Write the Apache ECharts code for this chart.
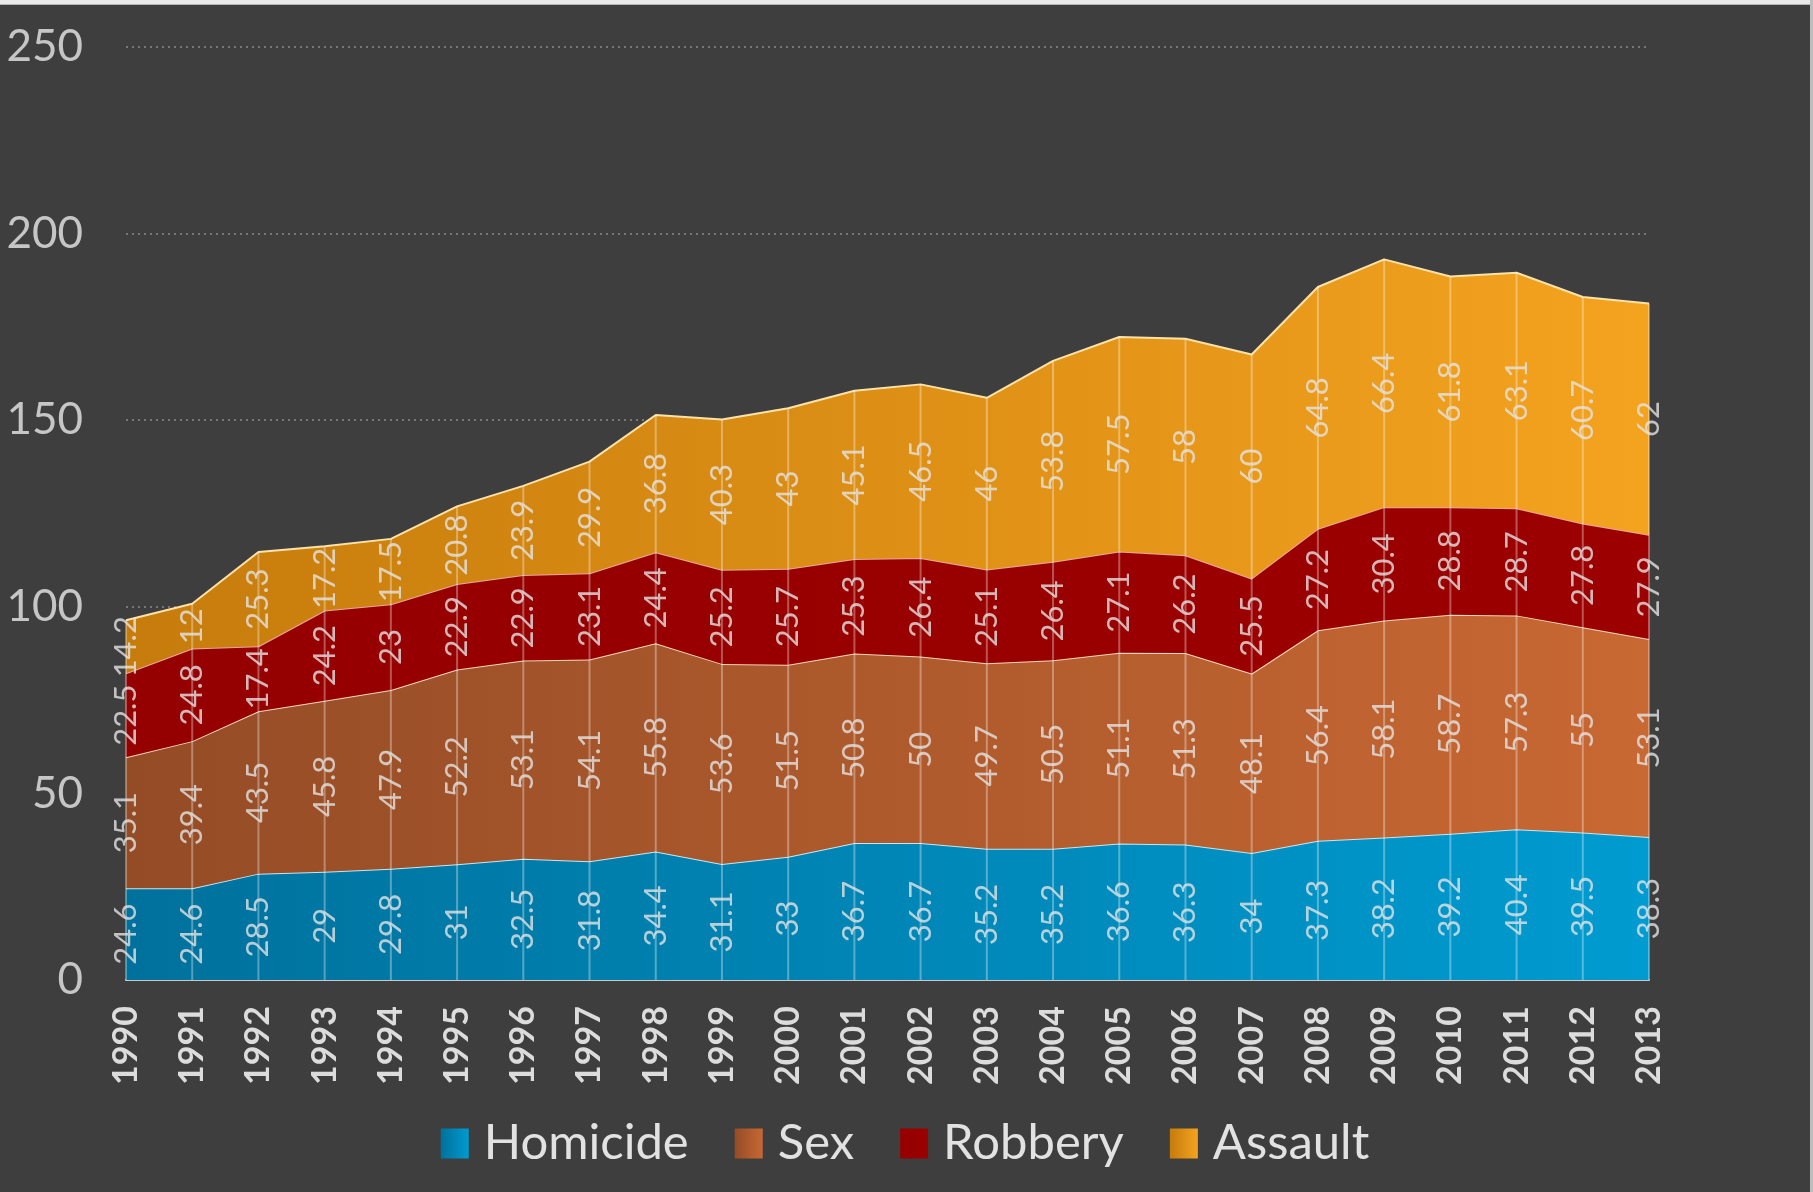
<!DOCTYPE html>
<html>
<head>
<meta charset="utf-8">
<script src="https://cdn.jsdelivr.net/npm/echarts@6/dist/echarts.min.js"></script>
<style>
  html, body { margin: 0; padding: 0; background: #3e3e3e; }
  #chart { position: absolute; left: 0; top: 0; width: 1810px; height: 1192px; }
  #topbar { position: absolute; left: 0; top: 0; width: 1813px; height: 5px; background: #e9e9e9; border-bottom: 1px solid #b5b5b5; box-sizing: border-box; }
  #rightbar { position: absolute; left: 1810px; top: 0; width: 3px; height: 1192px; background: #bdbdbd; }
</style>
</head>
<body>
<div id="chart"></div>
<div id="topbar"></div>
<div id="rightbar"></div>
<script>
// Years on the category axis
const years = ['1990','1991','1992','1993','1994','1995','1996','1997','1998','1999','2000','2001',
               '2002','2003','2004','2005','2006','2007','2008','2009','2010','2011','2012','2013'];

// Values per offence type, stacked bottom to top
const homicide = [24.6, 24.6, 28.5, 29, 29.8, 31, 32.5, 31.8, 34.4, 31.1, 33, 36.7,
                  36.7, 35.2, 35.2, 36.6, 36.3, 34, 37.3, 38.2, 39.2, 40.4, 39.5, 38.3];
const sex      = [35.1, 39.4, 43.5, 45.8, 47.9, 52.2, 53.1, 54.1, 55.8, 53.6, 51.5, 50.8,
                  50, 49.7, 50.5, 51.1, 51.3, 48.1, 56.4, 58.1, 58.7, 57.3, 55, 53.1];
const robbery  = [22.5, 24.8, 17.4, 24.2, 23, 22.9, 22.9, 23.1, 24.4, 25.2, 25.7, 25.3,
                  26.4, 25.1, 26.4, 27.1, 26.2, 25.5, 27.2, 30.4, 28.8, 28.7, 27.8, 27.9];
const assault  = [14.2, 12, 25.3, 17.2, 17.5, 20.8, 23.9, 29.9, 36.8, 40.3, 43, 45.1,
                  46.5, 46, 53.8, 57.5, 58, 60, 64.8, 66.4, 61.8, 63.1, 60.7, 62];

const yTicks = { min: 0, max: 250, interval: 50 };

const FONT = 'Lato, "Open Sans", "DejaVu Sans", sans-serif';
const grad = (a, b) => new echarts.graphic.LinearGradient(0, 0, 1, 0, [
  { offset: 0, color: a }, { offset: 1, color: b }
]);

const layers = [
  { name: 'Homicide', data: homicide, fill: ['#00719c', '#009bd0'], line: '#bfe8f6' },
  { name: 'Sex',      data: sex,      fill: ['#944c26', '#c86833'], line: '#f3d6bd' },
  { name: 'Robbery',  data: robbery,  fill: ['#950000', '#9c0000'], line: '#e9a5a5' },
  { name: 'Assault',  data: assault,  fill: ['#c67c0c', '#f4a31f'], line: '#fde2a6' }
];

const chart = echarts.init(document.getElementById('chart'), null, { renderer: 'canvas' });

// Stacked areas
const areaSeries = layers.map((l, k) => ({
  name: l.name,
  type: 'line',
  stack: 'total',
  data: l.data,
  symbol: 'none',
  smooth: false,
  lineStyle: { color: l.line, width: 2 },
  itemStyle: { color: grad(l.fill[0], l.fill[1]) },
  areaStyle: { color: grad(l.fill[0], l.fill[1]), opacity: 1 },
  emphasis: { disabled: true },
  z: 2 + k
}));

// Running bases for centring the value labels inside each band
const bases = years.map(() => 0);
const labelSeries = layers.map(l => {
  const pts = l.data.map((v, i) => {
    const mid = bases[i] + v / 2;
    bases[i] += v;
    return [i, mid, v];
  });
  return {
    type: 'scatter',
    data: pts,
    symbol: 'circle',
    symbolSize: 1,
    itemStyle: { color: 'rgba(0,0,0,0)' },
    silent: true,
    z: 20,
    label: {
      show: true,
      position: 'inside',
      rotate: 90,
      color: '#e4e4e4',
      fontSize: 31,
      fontFamily: FONT,
      formatter: p => String(p.value[2])
    }
  };
});

// Totals for the vertical drop lines at each year
const totals = years.map((_, i) => homicide[i] + sex[i] + robbery[i] + assault[i]);
const dropSeries = {
  type: 'custom',
  silent: true,
  z: 10,
  data: totals.map((t, i) => [i, t]),
  renderItem: (params, api) => {
    const top = api.coord([api.value(0), api.value(1)]);
    const bot = api.coord([api.value(0), 0]);
    return {
      type: 'line',
      shape: { x1: top[0], y1: top[1], x2: bot[0], y2: bot[1] },
      style: { stroke: 'rgba(255,255,255,0.33)', lineWidth: 2 }
    };
  }
};

chart.setOption({
  backgroundColor: '#3e3e3e',
  animation: false,
  grid: { left: 126, right: 161, top: 47, bottom: 212 },
  legend: {
    left: 'center',
    top: 1114,
    itemWidth: 28,
    itemHeight: 30,
    itemGap: 46,
    icon: 'rect',
    textStyle: { color: '#e2e2e2', fontSize: 49, fontFamily: FONT, padding: [0, 0, 0, 10] },
    data: layers.map(l => ({ name: l.name, itemStyle: { color: grad(l.fill[0], l.fill[1]) } }))
  },
  xAxis: {
    type: 'category',
    data: years,
    boundaryGap: false,
    axisLine: { show: true, lineStyle: { color: '#c8c8c8', width: 2 } },
    axisTick: { show: false },
    axisLabel: {
      rotate: 90,
      margin: 26,
      color: '#dcdcdc',
      fontSize: 34,
      fontWeight: 'bold',
      fontFamily: FONT,
      interval: 0
    },
    splitLine: { show: false }
  },
  yAxis: {
    type: 'value',
    min: yTicks.min,
    max: yTicks.max,
    interval: yTicks.interval,
    axisLine: { show: false },
    axisTick: { show: false },
    axisLabel: { color: '#c6c6c6', fontSize: 44, fontFamily: FONT, margin: 43 },
    splitLine: { show: true, lineStyle: { color: '#8a8a8a', width: 1.5, type: [2, 4] } }
  },
  series: [...areaSeries, dropSeries, ...labelSeries]
});
</script>
</body>
</html>
